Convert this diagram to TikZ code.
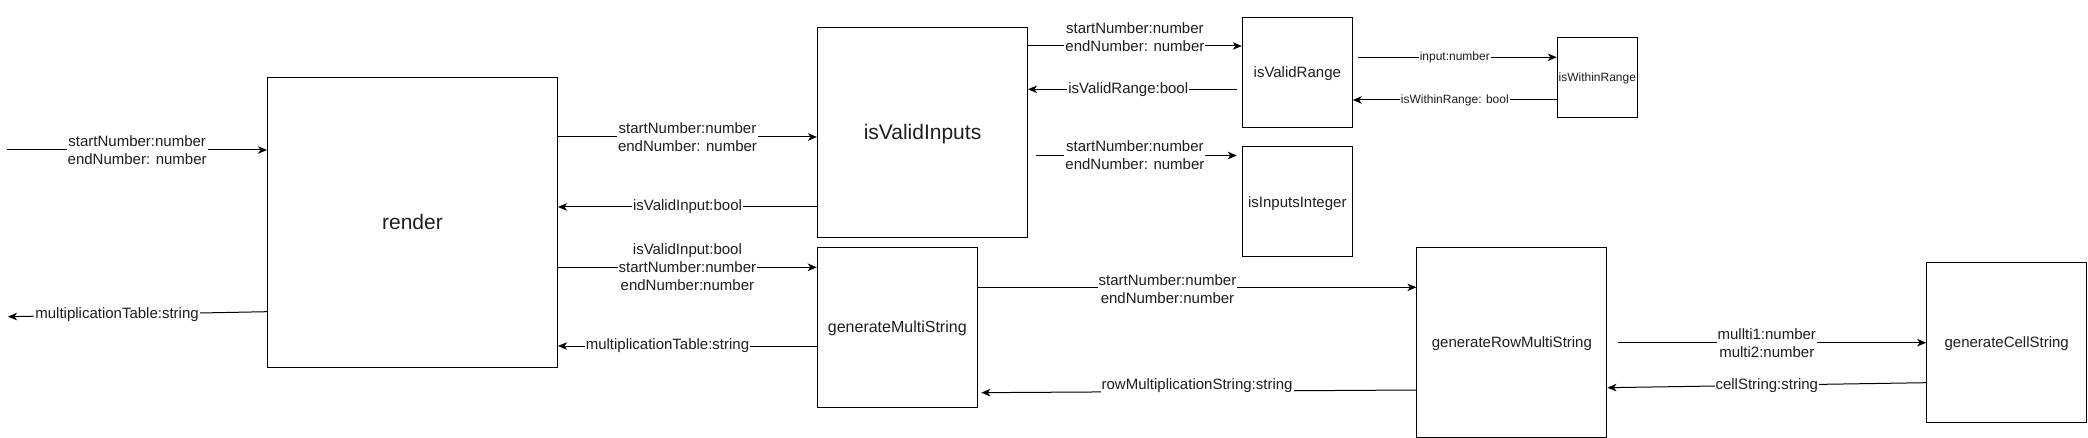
\documentclass[tikz,border=0pt]{standalone}
\usepackage{fontspec}
\setmainfont{Liberation Sans}
\usetikzlibrary{arrows.meta}
\definecolor{txt}{HTML}{1E1E1E}
\tikzset{
  func/.style={draw=black, line width=1pt, fill=white, text=txt, inner sep=0pt, align=center},
  conn/.style={line width=1pt, draw=black, -{Stealth[length=9pt,width=7.5pt,inset=2.5pt]}},
  lbl/.style={fill=white, text=txt, inner sep=1pt, align=center, font=\fontsize{15}{18}\selectfont},
  slbl/.style={lbl, font=\fontsize{12}{14}\selectfont},
  big/.style={font=\fontsize{21}{25}\selectfont, text height=19pt, text depth=4.45pt},
  mid/.style={font=\fontsize{15}{18}\selectfont, text height=13.6pt, text depth=3.2pt},
  midplus/.style={font=\fontsize{16}{19}\selectfont, text height=14.5pt, text depth=3.4pt},
  small/.style={font=\fontsize{12}{14}\selectfont, text height=10.9pt, text depth=2.5pt},
}
\begin{document}
\begin{tikzpicture}[x=1pt,y=-1pt]
\useasboundingbox[fill=white] (0,0) rectangle (2088,438);

% boxes
\node[func, big, minimum width=290pt, minimum height=290pt] (render) at (412.5,222.2) {render};
\node[func, big, minimum width=210pt, minimum height=210pt] (isVI) at (922.5,132.3) {isValidInputs};
\node[func, mid, minimum width=110pt, minimum height=110pt] (isVR) at (1297.3,72.3) {isValidRange};
\node[func, small, minimum width=80pt, minimum height=80pt] (isWR) at (1597.3,77.3) {isWithinRange};
\node[func, mid, minimum width=110pt, minimum height=110pt] (isII) at (1297.3,202) {isInputsInteger};
\node[func, midplus, minimum width=160pt, minimum height=160pt] (gMS) at (897.3,327.3) {generateMultiString};
\node[func, mid, minimum width=190pt, minimum height=190pt] (gRMS) at (1511.9,342.3) {generateRowMultiString};
\node[func, mid, minimum width=160pt, minimum height=160pt] (gCS) at (2006.7,342.3) {generateCellString};

% free ends
\coordinate (inL) at (7.4,150);
\coordinate (outL) at (8,316.7);

% render inputs / outputs
\draw[conn] (inL) -- (inL -| render.west)
  node[lbl, pos=0.5] {startNumber:number\\endNumber: number};
\draw[conn] (render.west |- 0,311.7) -- (outL)
  node[lbl, pos=0.579] {multiplicationTable:string};

% render <-> isValidInputs
\draw[conn] (render.east |- 0,137) -- (isVI.west |- 0,137)
  node[lbl, pos=0.5] {startNumber:number\\endNumber: number};
\draw[conn] (isVI.west |- 0,207) -- (render.east |- 0,207)
  node[lbl, pos=0.5] {isValidInput:bool};

% render <-> generateMultiString
\draw[conn] (render.east |- 0,267.3) -- (gMS.west |- 0,267.3)
  node[lbl, pos=0.5] {isValidInput:bool\\startNumber:number\\endNumber:number};
\draw[conn] (gMS.west |- 0,346) -- (render.east |- 0,346)
  node[lbl, pos=0.577] {multiplicationTable:string};

% isValidInputs <-> isValidRange
\draw[conn] (isVI.east |- 0,46) -- (isVR.west |- 0,46)
  node[lbl, pos=0.5, yshift=9pt] {startNumber:number\\endNumber: number};
\draw[conn, shorten <=4.5pt] (isVR.west |- 0,89.3) -- (isVI.east |- 0,89.3)
  node[lbl, pos=0.531] {isValidRange:bool};

% isValidInputs -> isInputsInteger
\draw[conn, shorten <=7.5pt, shorten >=5pt] (isVI.east |- 0,155.5) -- (isII.west |- 0,155.5)
  node[lbl, pos=0.5] {startNumber:number\\endNumber: number};

% isValidRange <-> isWithinRange
\draw[conn, shorten <=5.4pt] (isVR.east |- 0,57.3) -- (isWR.west |- 0,57.3)
  node[slbl, pos=0.5] {input:number};
\draw[conn] (isWR.west |- 0,100) -- (isVR.east |- 0,100)
  node[slbl, pos=0.5] {isWithinRange: bool};

% generateMultiString <-> generateRowMultiString
\draw[conn] (gMS.east |- 0,287.3) -- (gRMS.west |- 0,287.3)
  node[lbl, pos=0.4325, yshift=-2pt] {startNumber:number\\endNumber:number};
\draw[conn, shorten >=3.5pt] (gRMS.west |- 0,390) -- (gMS.east |- 0,392.7)
  node[lbl, pos=0.5, yshift=6pt] {rowMultiplicationString:string};

% generateRowMultiString <-> generateCellString
\draw[conn, shorten <=11pt] (gRMS.east |- 0,342.7) -- (gCS.west |- 0,342.7)
  node[lbl, pos=0.5] {mullti1:number\\multi2:number};
\draw[conn] (gCS.west |- 0,382.7) -- (gRMS.east |- 0,387.7)
  node[lbl, pos=0.5] {cellString:string};
\end{tikzpicture}
\end{document}
